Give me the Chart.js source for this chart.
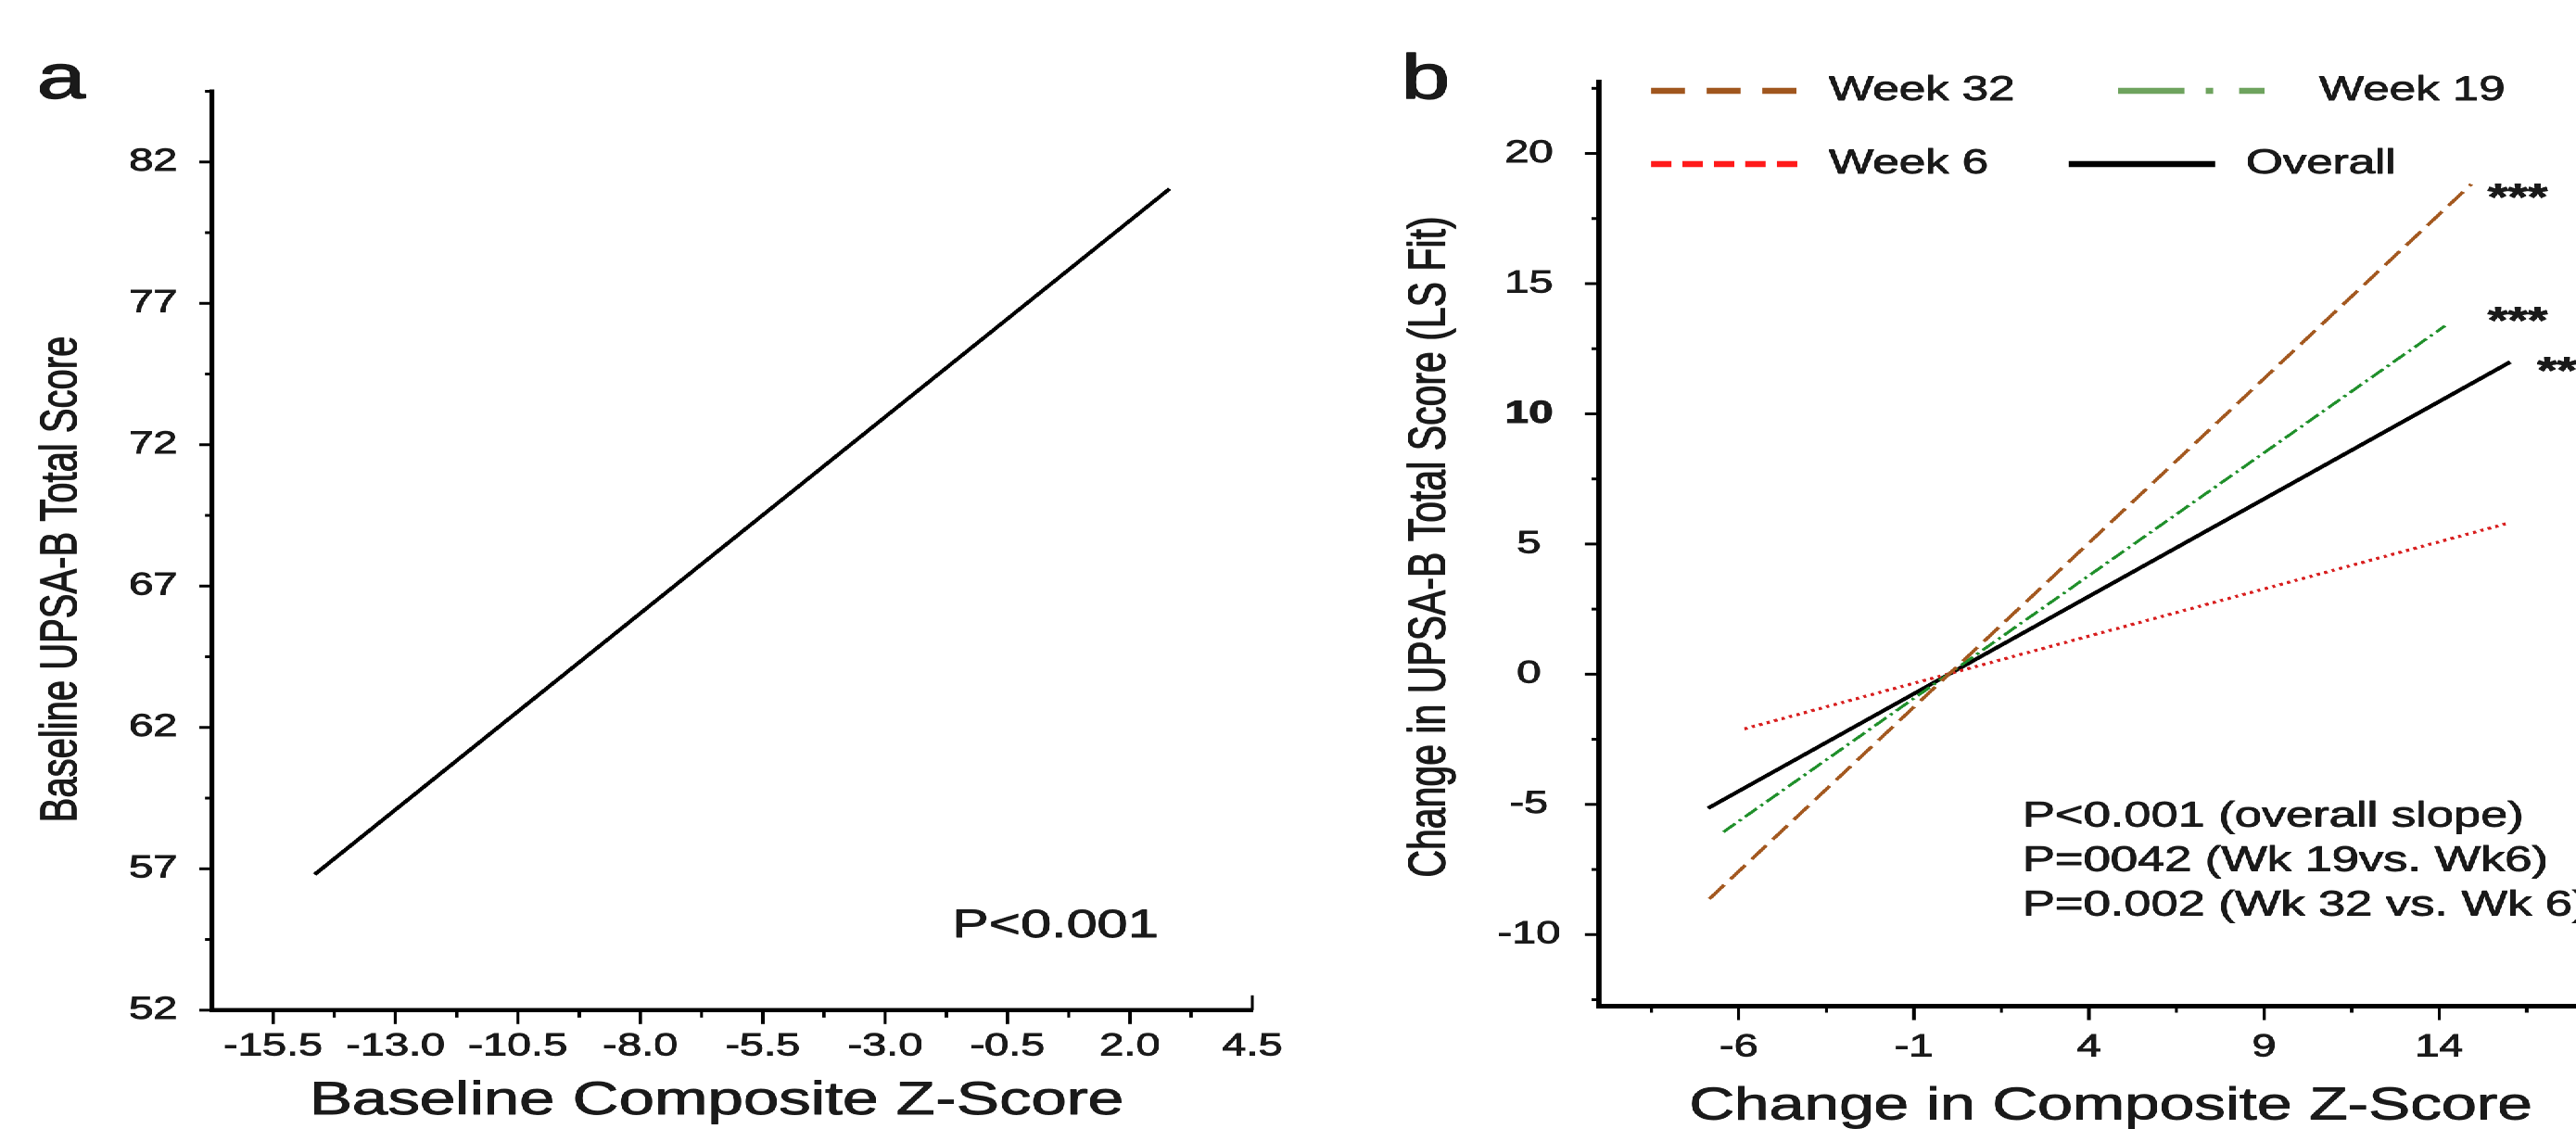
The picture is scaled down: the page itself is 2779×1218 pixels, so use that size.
<!DOCTYPE html>
<html lang="en">
<head>
<meta charset="utf-8">
<title>UPSA-B vs Composite Z-Score</title>
<script src="https://cdn.jsdelivr.net/npm/chart.js@4.4.1/dist/chart.umd.min.js"></script>
<style>
    html, body { margin: 0; padding: 0; background: #fff; width: 2779px; height: 1218px; overflow: hidden; }
    /* the source figure is stretched horizontally, so the whole stage is too */
    #figure { position: absolute; left: 0; top: 0; width: 2101px; height: 1218px; transform: scaleX(1.38); transform-origin: 0 0; }
    #figure canvas { position: absolute; top: 0; }
</style>
</head>
<body>
<div id="figure">
    <canvas id="panelA" width="1007" height="1218" style="left:0;width:1007px;height:1218px"></canvas>
    <canvas id="panelB" width="1094" height="1218" style="left:1007px;width:1094px;height:1218px"></canvas>
</div>
<script>
// Panel a - baseline fit
const baselineZ = [-14.65, 2.81];
const baselineUpsa = [56.8, 81.05];
const aXTicks = [-15.5, -13.0, -10.5, -8.0, -5.5, -3.0, -0.5, 2.0, 4.5];
const aXMinor = [-14.25, -11.75, -9.25, -6.75, -4.25, -1.75, 0.75, 3.25];
const aYTicks = [52, 57, 62, 67, 72, 77, 82];
const aYMinor = [54.5, 59.5, 64.5, 69.5, 74.5, 79.5, 84.5];

// Panel b - change fits by visit
const weekLabels = ['Week 32', 'Week 19', 'Week 6', 'Overall'];
const week32Z = [-6.84, 14.92];
const week32Change = [-8.63, 18.82];
const week19Z = [-6.44, 14.17];
const week19Change = [-6.06, 13.38];
const week6Z = [-5.84, 15.92];
const week6Change = [-2.10, 5.78];
const overallZ = [-6.88, 16.03];
const overallChange = [-5.15, 11.99];
const bXTicks = [-6, -1, 4, 9, 14, 19];
const bXMinor = [-8.5, -3.5, 1.5, 6.5, 11.5, 16.5];
const bYTicks = [-10, -5, 0, 5, 10, 15, 20];
const bYMinor = [-12.5, -7.5, -2.5, 2.5, 7.5, 12.5, 17.5, 22.5];
const pNotes = ['P<0.001 (overall slope)', 'P=0042 (Wk 19vs. Wk6)', 'P=0.002 (Wk 32 vs. Wk 6)'];
const starNotes = ['***', '***', '**'];

const S = 1.38;          // horizontal stretch of the stage
const B_LEFT = 1007;     // panel b offset inside the stage
const FONT = "'Liberation Sans', Arial, Helvetica, sans-serif";
const INK = '#1a1a1a';
const HEAVY = 0.9;       // the scanned figure has slightly heavy type

Chart.defaults.font.family = FONT;
Chart.defaults.color = INK;

// page pixel -> canvas pixel
const ax = fx => fx / S;
const bx = fx => fx / S - B_LEFT;

const pairs = (xs, ys) => xs.map((x, i) => ({ x, y: ys[i] }));

function text(ctx, str, x, y, size, opt = {}) {
    ctx.save();
    ctx.font = `${opt.weight || 'normal'} ${size}px ${FONT}`;
    ctx.fillStyle = INK;
    ctx.strokeStyle = INK;
    ctx.lineWidth = opt.stroke !== undefined ? opt.stroke : HEAVY;
    ctx.lineJoin = 'round';
    ctx.textAlign = opt.align || 'left';
    ctx.textBaseline = opt.baseline || 'middle';
    ctx.translate(x, y);
    if (opt.rotate) ctx.rotate(opt.rotate);
    ctx.fillText(str, 0, 0);
    if (ctx.lineWidth > 0) ctx.strokeText(str, 0, 0);
    ctx.restore();
}

function drawTicks(chart, axisId, values, len, width) {
    const scale = chart.scales[axisId];
    const area = chart.chartArea;
    const ctx = chart.ctx;
    ctx.save();
    ctx.strokeStyle = '#000';
    ctx.lineWidth = width;
    values.forEach(v => {
        const p = scale.getPixelForValue(v);
        ctx.beginPath();
        if (scale.isHorizontal()) {
            ctx.moveTo(p, area.bottom);
            ctx.lineTo(p, area.bottom + len);
        } else {
            ctx.moveTo(area.left, p);
            ctx.lineTo(area.left - len, p);
        }
        ctx.stroke();
    });
    ctx.restore();
}

function legendLine(ctx, x1, x2, y, color, dash) {
    ctx.save();
    ctx.strokeStyle = color;
    ctx.lineWidth = 6.5;
    ctx.setLineDash(dash);
    ctx.beginPath();
    ctx.moveTo(x1, y);
    ctx.lineTo(x2, y);
    ctx.stroke();
    ctx.restore();
}

function axisScale(o) {
    return {
        type: 'linear',
        min: o.min,
        max: o.max,
        afterBuildTicks: s => { s.ticks = o.ticks.map(value => ({ value })); },
        afterFit: s => {
            if (o.width) s.width = o.width;
            if (o.height) s.height = o.height;
        },
        grid: { display: true, drawOnChartArea: false, drawTicks: true, tickLength: o.labelGap, tickColor: 'rgba(0,0,0,0)' },
        border: { display: true, color: '#000', width: o.border },
        ticks: {
            padding: 0,
            autoSkip: false,
            maxRotation: 0,
            minRotation: 0,
            color: INK,
            textStrokeColor: INK,
            textStrokeWidth: HEAVY,
            crossAlign: o.crossAlign || 'near',
            font: o.font || { size: 34 },
            callback: o.format
        }
    };
}

const baseOptions = {
    responsive: false,
    devicePixelRatio: 2,
    animation: false,
    events: [],
    elements: { point: { radius: 0 }, line: { tension: 0 } },
    plugins: { legend: { display: false }, tooltip: { enabled: false } }
};

// ---- panel a ----
const panelADecor = {
    id: 'panelADecor',
    afterDraw(chart) {
        const ctx = chart.ctx;
        drawTicks(chart, 'y', aYTicks, ax(14), 3);
        drawTicks(chart, 'y', aYMinor, ax(7), 3);
        drawTicks(chart, 'x', aXTicks.slice(0, -1), 15, ax(3.5));
        drawTicks(chart, 'x', aXMinor, 8, ax(3.5));
        drawTicks(chart, 'x', [4.5], -16, ax(3.5));
        text(ctx, 'a', ax(40), 106, 68, { baseline: 'alphabetic', stroke: 1.4 });
        text(ctx, 'Baseline UPSA-B Total Score', ax(67), 625, 40, { align: 'center', rotate: -Math.PI / 2 });
        text(ctx, 'Baseline Composite Z-Score', ax(773), 1188, 50, { align: 'center' });
        text(ctx, 'P<0.001', ax(1027), 999, 43);
    }
};

new Chart(document.getElementById('panelA'), {
    type: 'line',
    data: {
        datasets: [{
            label: 'Baseline',
            data: pairs(baselineZ, baselineUpsa),
            borderColor: '#000',
            borderWidth: 3.6
        }]
    },
    options: {
        ...baseOptions,
        layout: { padding: { left: 0, top: 98.5, right: 28, bottom: 0 } },
        scales: {
            x: axisScale({ min: -16.75, max: 4.5, ticks: aXTicks, height: 1218 - 1089.8, labelGap: 18.8, border: 4.5, format: v => v.toFixed(1) }),
            y: axisScale({ min: 52, max: 84.5, ticks: aYTicks, width: ax(228.6), labelGap: 27, border: 3.6, format: v => String(v) })
        }
    },
    plugins: [panelADecor]
});

// ---- panel b ----
const bStyles = [
    { color: '#a3581f', width: 3.1, dash: [19, 8] },
    { color: '#1f8f2a', width: 2.8, dash: [13, 4, 2.5, 4] },
    { color: '#d81e1e', width: 3.2, dash: [2.6, 3.6] },
    { color: '#000000', width: 3.9, dash: [] }
];
const legendStyles = [
    { color: '#a0561e', dash: [26.8, 16.7], x1: 1781, x2: 1940, y: 98, tx: 1973 },
    { color: '#6ea35e', dash: [52, 16.5, 6, 20], x1: 2285, x2: 2443, y: 98, tx: 2502 },
    { color: '#ff1a1a', dash: [16, 8.6], x1: 1781, x2: 1941, y: 177, tx: 1973 },
    { color: '#000000', dash: [], x1: 2232, x2: 2390, y: 177, tx: 2423 }
];
const bSeries = [
    pairs(week32Z, week32Change),
    pairs(week19Z, week19Change),
    pairs(week6Z, week6Change),
    pairs(overallZ, overallChange)
];

const panelBDecor = {
    id: 'panelBDecor',
    afterDraw(chart) {
        const ctx = chart.ctx;
        drawTicks(chart, 'y', bYTicks, ax(15), 3);
        drawTicks(chart, 'y', bYMinor, ax(8), 3);
        drawTicks(chart, 'x', bXTicks, 15, ax(3.5));
        drawTicks(chart, 'x', bXMinor, 7, ax(3.5));
        text(ctx, 'b', bx(1512), 106, 68, { baseline: 'alphabetic', stroke: 1.4 });
        text(ctx, 'Change in UPSA-B Total Score (LS Fit)', bx(1543), 590, 41, { align: 'center', rotate: -Math.PI / 2 });
        text(ctx, 'Change in Composite Z-Score', bx(2277), 1194, 49, { align: 'center' });

        legendStyles.forEach((l, i) => {
            legendLine(ctx, bx(l.x1), bx(l.x2), l.y, l.color, l.dash);
            text(ctx, weekLabels[i], bx(l.tx), l.y, 37);
        });

        pNotes.forEach((p, i) => text(ctx, p, bx(2182), 881 + i * 48, 38));

        text(ctx, starNotes[0], bx(2684), 226, 40, { weight: 'bold', baseline: 'alphabetic' });
        text(ctx, starNotes[1], bx(2684), 359, 40, { weight: 'bold', baseline: 'alphabetic' });
        text(ctx, starNotes[2], bx(2737), 413, 40, { weight: 'bold', baseline: 'alphabetic' });
    }
};

new Chart(document.getElementById('panelB'), {
    type: 'line',
    data: {
        datasets: bSeries.map((data, i) => ({
            label: weekLabels[i],
            data,
            borderColor: bStyles[i].color,
            borderWidth: bStyles[i].width,
            borderDash: bStyles[i].dash
        }))
    },
    options: {
        ...baseOptions,
        layout: { padding: { left: 0, top: 88.3, right: 30, bottom: 0 } },
        scales: {
            x: axisScale({ min: -10, max: 20, ticks: bXTicks, height: 1218 - 1085.5, labelGap: 24.1, border: 5, format: v => String(v) }),
            y: axisScale({
                min: -12.75, max: 22.75, ticks: bYTicks, width: bx(1724.7), labelGap: 30, border: 4.4,
                crossAlign: 'center',
                font: c => ({ size: 34, weight: c.tick && c.tick.value === 10 ? 'bold' : 'normal' }),
                format: v => String(v)
            })
        }
    },
    plugins: [panelBDecor]
});
</script>
</body>
</html>
